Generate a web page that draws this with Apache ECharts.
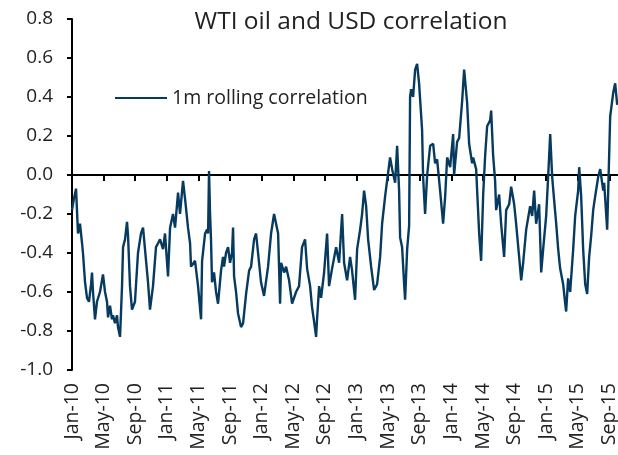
<!DOCTYPE html>
<html lang="en">
	<head>
		<meta charset="utf-8" />
		<title>WTI oil and USD correlation</title>
		<style>
			html, body { margin: 0; padding: 0; background: #fff; }
			#chart { width: 618px; height: 455px; }
		</style>
	</head>
	<body>
		<div id="chart"></div>

		<script src="https://cdn.jsdelivr.net/npm/echarts@6/dist/echarts.min.js"></script>
		<script>
			// x tick labels, one every 4 months from Jan-10 (last one sits off canvas)
			var tickLabels = ['Jan-10', 'May-10', 'Sep-10', 'Jan-11', 'May-11', 'Sep-11',
				'Jan-12', 'May-12', 'Sep-12', 'Jan-13', 'May-13', 'Sep-13',
				'Jan-14', 'May-14', 'Sep-14', 'Jan-15', 'May-15', 'Sep-15', 'Jan-16'];

			// months since Jan 2010 for each reading
			var monthOffset = [
				0, 0.25, 0.51, 0.76, 1.01, 1.27, 1.39, 1.65, 1.90, 2.15, 2.41, 2.53, 2.66, 2.91, 3.16, 3.54, 3.92, 4.18, 4.43, 4.56,
				4.81, 5.06, 5.19, 5.44, 5.70, 5.82, 6.08, 6.33, 6.46, 6.71, 6.96, 7.09, 7.34, 7.59, 7.97, 8.35,
				8.73, 8.99, 9.24, 9.37, 9.62, 9.87, 10.25, 10.63, 10.89, 11.14, 11.52, 11.77, 12.15, 12.41, 12.78, 13.04, 13.42, 13.67,
				14.05, 14.30, 14.68, 14.94, 15.06, 15.57, 15.95, 16.33, 16.46, 16.84, 17.09,
				17.22, 17.34, 17.47, 17.59, 17.72, 17.97, 18.23, 18.48, 18.86, 19.11, 19.24, 19.49, 19.75, 20.00, 20.25, 20.38, 20.51,
				20.76, 21.01, 21.39, 21.65, 22.03, 22.41, 22.66, 23.04, 23.29, 23.67, 23.92, 24.30, 24.81, 25.19, 25.57,
				25.82, 26.08, 26.33, 26.46, 26.84, 27.09, 27.47, 27.85, 28.35, 28.73, 29.11, 29.49, 29.75, 30.13, 30.38, 30.63,
				30.89, 31.01, 31.27, 31.52, 31.90, 32.28, 32.53, 32.91, 33.42, 33.80, 34.18,
				34.43, 34.81, 35.19, 35.44, 35.82, 36.08, 36.46, 36.71, 36.96, 37.22, 37.47, 37.85, 38.23, 38.61, 38.99, 39.24,
				39.62, 39.87, 40.25, 40.51, 40.89, 41.14, 41.39, 41.52, 41.77, 42.03, 42.15, 42.41, 42.66, 42.78,
				42.91, 43.16, 43.42, 43.67, 43.92, 44.30, 44.43, 44.68, 44.94, 45.32, 45.70, 45.95, 46.20, 46.58, 46.96, 47.22,
				47.47, 47.85, 48.23, 48.35, 48.73, 48.99, 49.37, 49.62, 50.00, 50.25, 50.63, 50.76, 51.14,
				51.27, 51.52, 51.77, 52.03, 52.28, 52.53, 52.91, 53.04, 53.29, 53.54, 53.67, 54.05, 54.30, 54.68, 54.94, 55.32,
				55.57, 55.95, 56.20, 56.58, 56.84, 57.09, 57.47, 57.97, 58.23, 58.48, 58.73, 59.11, 59.37, 59.62, 60.00,
				60.25, 60.51, 60.76, 61.01, 61.27, 61.52, 61.77, 62.15, 62.41, 62.53, 62.78, 63.04, 63.42, 63.67, 64.05, 64.18,
				64.43, 64.68, 64.94, 65.19, 65.44, 65.70, 65.95, 66.20, 66.58, 66.84, 67.22, 67.34, 67.72, 67.97, 68.10, 68.48,
				68.73, 68.99
			];

			// 1m rolling correlation
			var corr = [
				-0.18, -0.12, -0.07, -0.30, -0.25, -0.35, -0.40, -0.55, -0.63, -0.65, -0.56, -0.50, -0.60, -0.74, -0.65, -0.60, -0.51, -0.60, -0.65, -0.73,
				-0.67, -0.74, -0.72, -0.76, -0.72, -0.78, -0.83, -0.57, -0.37, -0.33, -0.24, -0.31, -0.57, -0.69, -0.65, -0.40,
				-0.30, -0.27, -0.28, -0.44, -0.55, -0.69, -0.57, -0.37, -0.35, -0.33, -0.38, -0.30, -0.52, -0.27, -0.20, -0.27, -0.09, -0.20,
				-0.03, -0.12, -0.27, -0.35, -0.47, -0.44, -0.57, -0.74, -0.44, -0.30, -0.28,
				-0.30, 0.02, -0.20, -0.33, -0.55, -0.50, -0.60, -0.66, -0.49, -0.42, -0.47, -0.40, -0.37, -0.45, -0.40, -0.27, -0.52,
				-0.60, -0.71, -0.78, -0.76, -0.61, -0.49, -0.47, -0.33, -0.30, -0.45, -0.55, -0.62, -0.47, -0.30, -0.20,
				-0.21, -0.30, -0.66, -0.45, -0.50, -0.47, -0.54, -0.66, -0.60, -0.57, -0.37, -0.33, -0.48, -0.57, -0.68, -0.75,
				-0.83, -0.74, -0.57, -0.63, -0.50, -0.30, -0.57, -0.48, -0.37, -0.45, -0.20,
				-0.45, -0.54, -0.42, -0.49, -0.64, -0.38, -0.28, -0.20, -0.08, -0.16, -0.33, -0.47, -0.59, -0.56, -0.42, -0.25,
				-0.11, -0.10, 0.09, 0.03, -0.04, 0.15, -0.08, -0.32, -0.37, -0.56, -0.64, -0.38, -0.26, 0.40,
				0.44, 0.40, 0.54, 0.57, 0.47, 0.23, -0.01, -0.20, 0.00, 0.15, 0.16, 0.06, 0.08, -0.08, -0.25, -0.11,
				0.09, 0.04, 0.21, 0.00, 0.17, 0.19, 0.38, 0.54, 0.37, 0.16, 0.06, 0.09, 0.03,
				0.03, -0.30, -0.44, -0.10, 0.10, 0.25, 0.28, 0.33, 0.10, -0.03, -0.18, -0.10, -0.25, -0.42, -0.18, -0.15,
				-0.06, -0.15, -0.25, -0.42, -0.54, -0.45, -0.28, -0.16, -0.21, -0.08, -0.25, -0.15, -0.50, -0.38, -0.21,
				-0.01, 0.21, -0.01, -0.13, -0.25, -0.38, -0.48, -0.56, -0.66, -0.70, -0.53, -0.60, -0.38, -0.21, -0.08, 0.04,
				-0.11, -0.38, -0.56, -0.61, -0.42, -0.31, -0.18, -0.11, -0.01, 0.03, -0.08, -0.04, -0.28, 0.10, 0.30, 0.42,
				0.47, 0.36
			];

			var seriesName = '1m rolling correlation';
			var lineColor = '#063a5f';
			var textColor = '#222';
			var fontName = 'Open Sans';

			var chart = echarts.init(document.getElementById('chart'));

			var data = monthOffset.map(function (m, i) { return [m, corr[i]]; });

			var option = {
				backgroundColor: '#fff',
				animation: false,
				textStyle: { fontFamily: fontName, color: textColor },
				title: {
					text: 'WTI oil and USD correlation',
					left: 346,
					textAlign: 'center',
					top: 5,
					textStyle: { fontFamily: fontName, fontSize: 24.5, fontWeight: 'normal', color: textColor }
				},
				legend: {
					data: [{ name: seriesName, icon: 'rect' }],
					left: 115,
					top: 88,
					padding: 0,
					itemWidth: 52,
					itemHeight: 2,
					textStyle: { fontFamily: fontName, fontSize: 19.5, color: textColor }
				},
				grid: { left: 72, top: 19, right: -23, bottom: 85, outerBoundsMode: 'none' },
				xAxis: [
					{
						// labels at the bottom
						type: 'value',
						min: 0,
						max: 72,
						interval: 4,
						position: 'bottom',
						axisLine: { show: false, onZero: false },
						axisTick: { show: false },
						splitLine: { show: false },
						axisLabel: {
							rotate: 90,
							margin: 13,
							fontFamily: fontName,
							fontSize: 19.5,
							color: textColor,
							formatter: function (v) {
								return v % 4 === 0 ? (tickLabels[v / 4] || '') : '';
							}
						}
					},
					{
						// zero line with ticks
						type: 'value',
						min: 0,
						max: 72,
						interval: 4,
						position: 'bottom',
						axisLine: { show: true, onZero: true, lineStyle: { color: '#000', width: 2 } },
						axisTick: { show: true, length: 6, lineStyle: { color: '#000', width: 2 } },
						axisLabel: { show: false },
						splitLine: { show: false }
					}
				],
				yAxis: {
					type: 'value',
					min: -1,
					max: 0.8,
					interval: 0.2,
					axisLine: { show: true, lineStyle: { color: '#000', width: 2 } },
					axisTick: { show: true, length: 5, lineStyle: { color: '#000', width: 2 } },
					splitLine: { show: false },
					axisLabel: {
						margin: 19,
						fontFamily: fontName,
						fontSize: 19,
						color: textColor,
						formatter: function (v) { return v.toFixed(1); }
					}
				},
				series: [
					{
						name: seriesName,
						type: 'line',
						xAxisIndex: 0,
						data: data,
						symbol: 'none',
						showSymbol: false,
						lineStyle: { color: lineColor, width: 2.4 },
						itemStyle: { color: lineColor }
					}
				]
			};

			chart.setOption(option);

			window.onresize = function () {
				chart.resize();
			};
		</script>
	</body>
</html>
